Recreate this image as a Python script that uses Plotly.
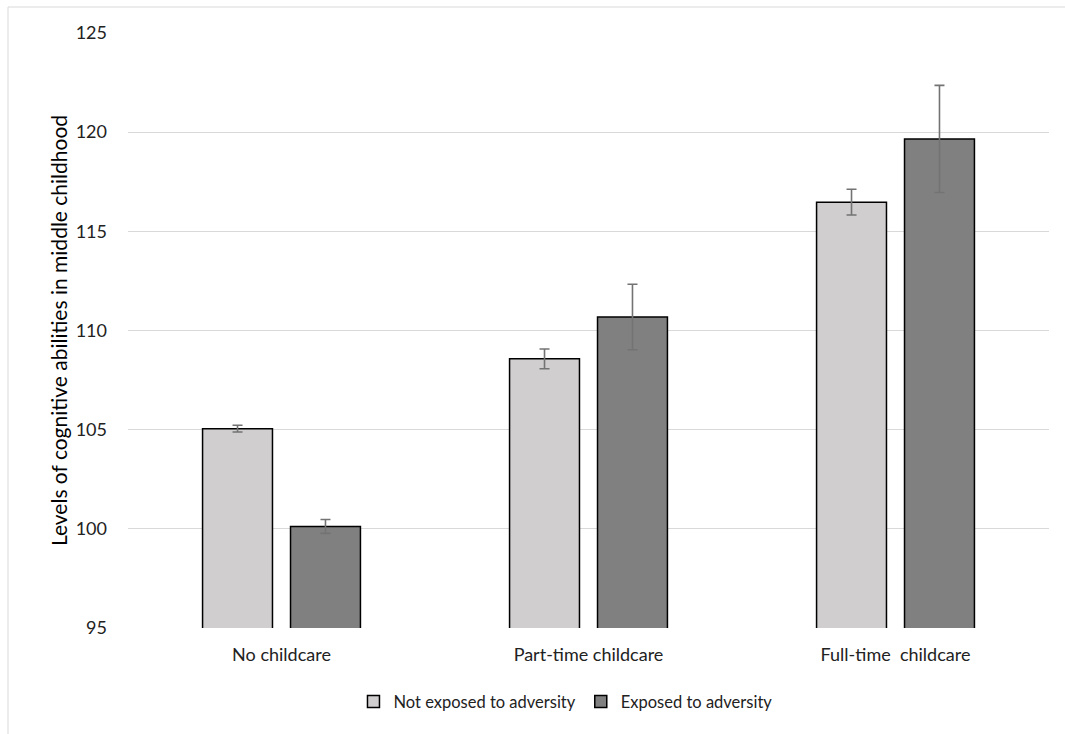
import plotly.graph_objects as go

# Cognitive ability scores by childcare type and adversity exposure
categories = ["No childcare", "Part-time childcare", "Full-time  childcare"]
not_exposed = [105.05, 108.57, 116.47]
not_exposed_err = [0.17, 0.5, 0.65]
exposed = [100.12, 110.68, 119.66]
exposed_err = [0.35, 1.65, 2.7]
y_ticks = [95, 100, 105, 110, 115, 120, 125]

FONT = "Lato"
TXT = "#222222"
W, H = 1065, 734
L, R, T, B = 128, 16, 33, 106
pw, ph = W - L - R, H - T - B

err_style = dict(type="data", thickness=1.6, width=5, color="#737373")

fig = go.Figure()
fig.add_trace(go.Bar(
    name="Not exposed to adversity", x=categories, y=not_exposed,
    error_y=dict(array=not_exposed_err, **err_style),
    marker=dict(color="#d0cece", line=dict(color="#000000", width=1.5)),
))
fig.add_trace(go.Bar(
    name="Exposed to adversity", x=categories, y=exposed,
    error_y=dict(array=exposed_err, **err_style),
    marker=dict(color="#808080", line=dict(color="#000000", width=1.5)),
))

# light frame around the whole chart
fig.add_shape(type="rect", xref="paper", yref="paper",
              x0=(8 - L) / pw, x1=(W + 5 - L) / pw,
              y0=-(H + 5 - T - ph) / ph, y1=(H - 7 - B) / ph,
              line=dict(color="#d9d9d9", width=1), layer="below")

fig.update_layout(
    width=W, height=H,
    margin=dict(l=L, r=R, t=T, b=B),
    paper_bgcolor="white", plot_bgcolor="white",
    font=dict(family=FONT, size=18, color=TXT),
    barmode="group", bargap=0.427, bargroupgap=0.205,
    showlegend=True,
    legend=dict(orientation="h", x=0.475, xanchor="center", y=-0.124,
                yanchor="middle", font=dict(size=16.5, color=TXT),
                itemwidth=30, traceorder="normal"),
    xaxis=dict(showgrid=False, showline=False, ticks="",
               ticklabelstandoff=14,
               tickfont=dict(size=18, color=TXT)),
    yaxis=dict(range=[95, 125], tickvals=y_ticks, showgrid=True,
               gridcolor="#d9d9d9", gridwidth=1, zeroline=False,
               showline=False, ticks="", ticklabelstandoff=20,
               tickfont=dict(size=18, color=TXT),
               title=dict(text="Levels of cognitive abilities in middle childhood",
                          font=dict(size=21, color="#000000"), standoff=2)),
)

fig.write_html("out.html")
